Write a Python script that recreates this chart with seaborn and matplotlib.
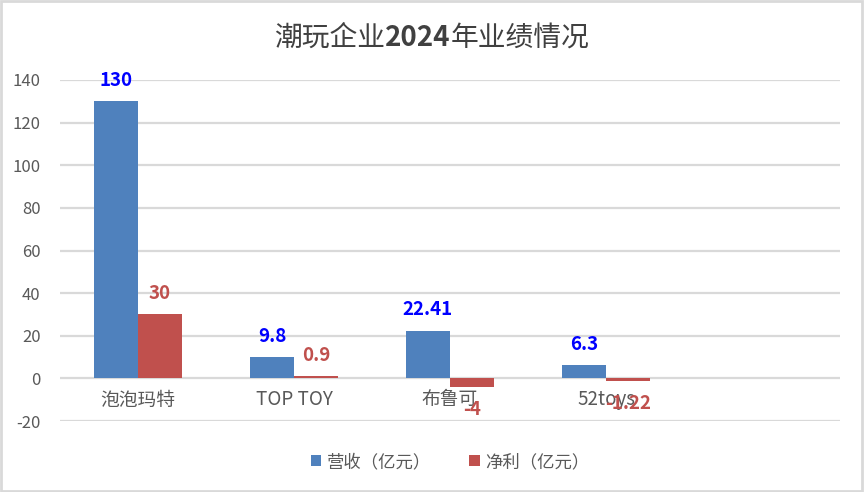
import numpy as np
import pandas as pd
import matplotlib
matplotlib.use("Agg")
import matplotlib.pyplot as plt
import seaborn as sns
from matplotlib.patches import Rectangle

# data
companies = ["泡泡玛特", "TOP TOY", "布鲁可", "52toys"]
revenue = [130, 9.8, 22.41, 6.3]
profit = [30, 0.9, -4, -1.22]
series_names = ["营收（亿元）", "净利（亿元）"]
yticks = [-20, 0, 20, 40, 60, 80, 100, 120, 140]

blue = "#4F81BD"
red = "#C0504D"

sns.set_theme(style="white")
plt.rcParams['font.family'] = ['Noto Sans CJK SC', 'DejaVu Sans']

df = pd.DataFrame({
    "公司": companies * 2,
    "指标": [series_names[0]] * len(companies) + [series_names[1]] * len(companies),
    "值": revenue + profit,
})

fig = plt.figure(figsize=(8.64, 4.92), dpi=100)
ax = fig.add_axes([60 / 864, 1 - 421 / 492, 780 / 864, 341 / 492])

sns.barplot(data=df, x="公司", y="值", hue="指标", order=companies,
            hue_order=series_names, palette=[blue, red], width=0.565,
            saturation=1, linewidth=0, ax=ax, legend=True)

ax.set_xlim(-0.5, 4.5)
ax.set_ylim(-20, 140)
ax.set_yticks(yticks)
ax.set_yticklabels([str(t) for t in yticks], color="#595959", fontsize=12)
ax.set_xlabel("")
ax.set_ylabel("")

# gridlines
for t in yticks:
    ax.axhline(t, color="#d9d9d9", lw=1.6, zorder=0)

for s in ["top", "right", "left"]:
    ax.spines[s].set_visible(False)
ax.spines["bottom"].set_position(("data", 0))
ax.spines["bottom"].set_visible(False)
ax.tick_params(axis="both", length=0)
ax.tick_params(axis="y", pad=14)
ax.tick_params(axis="x", pad=8)
for lab in ax.get_xticklabels():
    lab.set_color("#595959")
    lab.set_fontsize(13.5)

# data labels
label_colors = ["#0000FF", red]
for cont, col in zip(ax.containers, label_colors):
    for bar in cont:
        h = bar.get_height()
        if np.isnan(h):
            continue
        xc = bar.get_x() + bar.get_width() / 2
        dy = 15 if h >= 0 else -16
        ax.annotate(f"{h:g}", (xc, h), xytext=(0, dy), textcoords="offset points",
                    ha="center", va="center", color=col, fontsize=13.5,
                    fontweight="bold")

leg = ax.legend(loc="center", bbox_to_anchor=(450 / 864, 1 - 462 / 492),
                bbox_transform=fig.transFigure, ncol=2, frameon=False,
                fontsize=12.5, handlelength=0.6, handleheight=0.6,
                handletextpad=0.3, columnspacing=2.2)
for t in leg.get_texts():
    t.set_color("#595959")

# title: year part in bold, rest regular
title_parts = [("潮玩企业", "normal"), ("2024", "bold"), ("年业绩情况", "normal")]
texts = [fig.text(0, 1 - 38 / 492, s, ha="left", va="center", fontsize=20,
                  color="#404040", fontweight=w) for s, w in title_parts]
renderer = fig.canvas.get_renderer()
widths = [t.get_window_extent(renderer).width for t in texts]
x0 = (864 - sum(widths)) / 2
for t, w in zip(texts, widths):
    t.set_x(x0 / 864)
    x0 += w

fig.patches.append(Rectangle((0.001, 0.002), 0.997, 0.995, transform=fig.transFigure,
                             fill=False, edgecolor="#d9d9d9", lw=2))

fig.savefig("out.png", dpi=100)
